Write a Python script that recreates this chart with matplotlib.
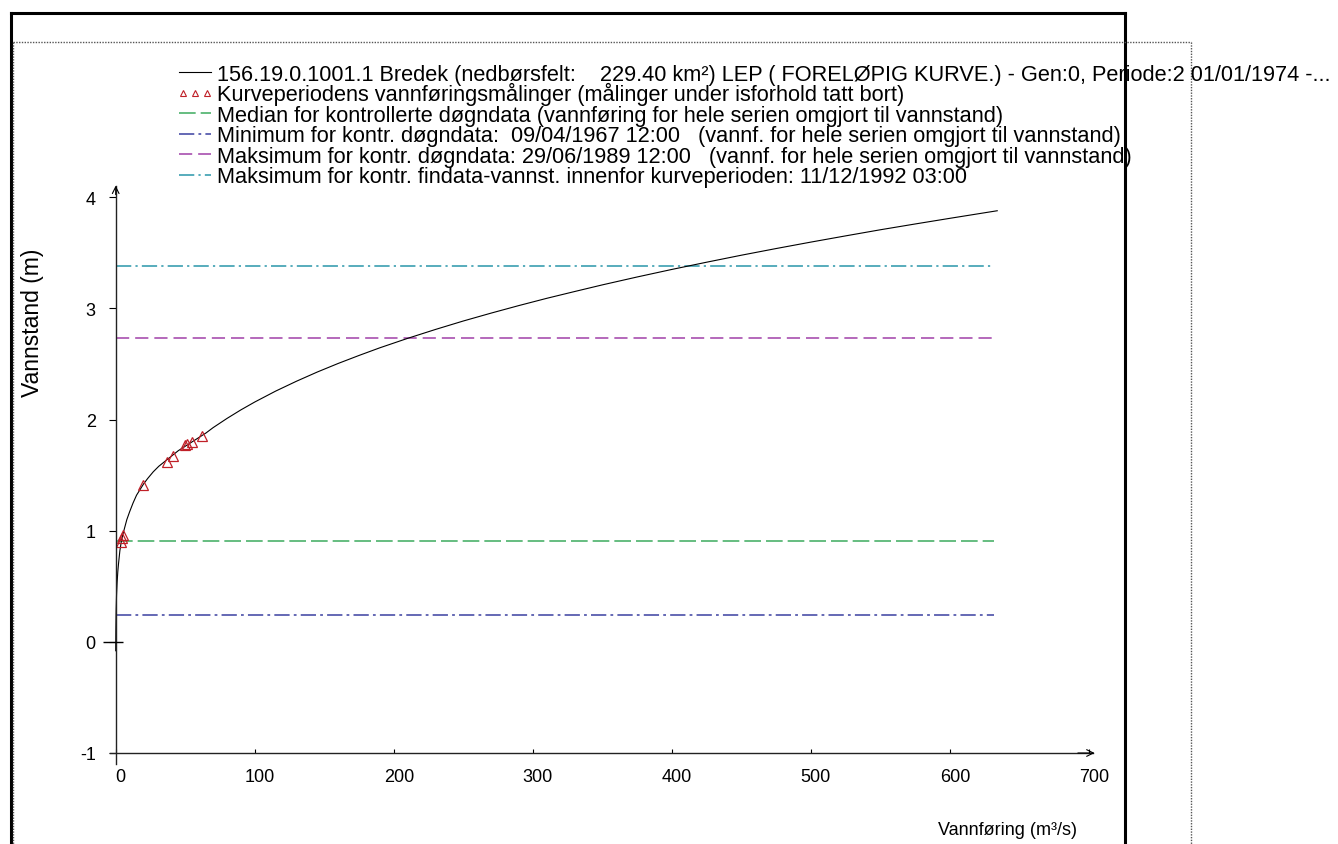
import matplotlib
matplotlib.use("Agg")
import matplotlib.pyplot as plt
from matplotlib.lines import Line2D
from matplotlib.transforms import ScaledTranslation

plt.rcParams["font.family"] = ["Liberation Sans", "DejaVu Sans"]
plt.rcParams["lines.scale_dashes"] = False

# Rating curve: discharge (m3/s) and stage (m)
curve_q = [0, 0.1, 0.3, 0.6, 1.0, 1.5, 2.0, 3.0, 4.0, 5.0, 6.5, 8, 10, 12.5, 15, 17.5,
           20, 23, 27, 31, 35, 40, 45, 50, 55, 60, 65, 70, 80, 90, 100, 115, 130,
           145, 160, 175, 190, 210, 230, 250, 270, 290, 310, 330, 350, 375, 400,
           425, 450, 475, 500, 525, 550, 575, 600, 620, 634]
curve_h = [-0.08, 0.10, 0.28, 0.42, 0.53, 0.63, 0.70, 0.82, 0.90, 0.96, 1.03, 1.10,
           1.17, 1.25, 1.32, 1.37, 1.42, 1.47, 1.53, 1.58, 1.62, 1.67, 1.72, 1.76,
           1.80, 1.84, 1.88, 1.927, 2.010, 2.087, 2.158, 2.256, 2.345, 2.428, 2.505,
           2.577, 2.646, 2.731, 2.811, 2.887, 2.958, 3.026, 3.091, 3.152, 3.212,
           3.283, 3.351, 3.416, 3.479, 3.539, 3.597, 3.653, 3.708, 3.760, 3.811,
           3.851, 3.879]

# Discharge measurements in the curve period
meas_q = [3.5, 4.2, 5.0, 19.7, 36.8, 40.9, 50.0, 51.0, 54.9, 62.1]
meas_h = [0.90, 0.93, 0.96, 1.41, 1.62, 1.67, 1.77, 1.78, 1.80, 1.85]

# Reference stages
median_daily = 0.91
min_daily = 0.24
max_daily = 2.73
max_fine = 3.38
level_q_end = 632

x_ticks = [0, 100, 200, 300, 400, 500, 600, 700]
y_ticks = [-1, 0, 1, 2, 3, 4]

legend_labels = [
    "156.19.0.1001.1 Bredek (nedbørsfelt:    229.40 km²) LEP ( FORELØPIG KURVE.) - Gen:0, Periode:2 01/01/1974 -...",
    "Kurveperiodens vannføringsmålinger (målinger under isforhold tatt bort)",
    "Median for kontrollerte døgndata (vannføring for hele serien omgjort til vannstand)",
    "Minimum for kontr. døgndata:  09/04/1967 12:00   (vannf. for hele serien omgjort til vannstand)",
    "Maksimum for kontr. døgndata: 29/06/1989 12:00   (vannf. for hele serien omgjort til vannstand)",
    "Maksimum for kontr. findata-vannst. innenfor kurveperioden: 11/12/1992 03:00",
]

c_green = "#3cab5e"
c_blue = "#3a40a0"
c_purple = "#a040a8"
c_teal = "#2a96aa"
c_red = "#c02028"

ls_median = (0, (12, 3.6))
ls_min = (0, (11, 3, 2, 3))
ls_maxd = (0, (9.5, 4.3))
ls_maxf = (0, (11, 3, 1.6, 3))

W, H = 1338, 845
fig = plt.figure(figsize=(W / 100, H / 100), dpi=100)


def fx(px):
    return px / W


def fy(py):
    return 1 - py / H


ax = fig.add_axes([fx(115.7), fy(754), (1089 - 115.7) / W, (754 - 198.3) / H])
ax.set_xlim(0, 700)
ax.set_ylim(-1, 4)
ax.patch.set_visible(False)
for s in ax.spines.values():
    s.set_visible(False)

# Reference stage lines
ax.plot([0, level_q_end], [max_fine] * 2, color=c_teal, lw=1.1, ls=ls_maxf)
ax.plot([0, level_q_end], [max_daily] * 2, color=c_purple, lw=1.1, ls=ls_maxd)
ax.plot([0, level_q_end], [median_daily] * 2, color=c_green, lw=1.1, ls=ls_median)
ax.plot([0, level_q_end], [min_daily] * 2, color=c_blue, lw=1.1, ls=ls_min)

# Rating curve and measurements
ax.plot(curve_q, curve_h, color="black", lw=0.8, clip_on=False)
ax.plot(meas_q, meas_h, ls="none", marker="^", ms=7, mfc="none",
        mec=c_red, mew=0.9, clip_on=False)

# Axis lines with arrow heads
axis_col = "#222222"
ax.plot([0, 0], [-1.1, 4.1], color=axis_col, lw=1.0, clip_on=False)
ax.plot([-4, 703], [-1, -1], color=axis_col, lw=1.0, clip_on=False)
ax.annotate("", xy=(0, 4.13), xytext=(0, 4.0), annotation_clip=False,
            arrowprops=dict(arrowstyle="->", lw=0.8, color="black", mutation_scale=12))
ax.annotate("", xy=(706, -1), xytext=(690, -1), annotation_clip=False,
            arrowprops=dict(arrowstyle="->", lw=0.8, color="black", mutation_scale=12))
ax.plot([0], [0], marker="_", ms=14, mew=1.0, color="black", clip_on=False,
        transform=ax.transData + ScaledTranslation(-3 / 100, 0, fig.dpi_scale_trans))

ax.set_xticks(x_ticks)
ax.set_xticklabels([str(v) for v in x_ticks], fontsize=13)
ax.set_yticks(y_ticks)
ax.set_yticklabels([str(v) for v in y_ticks], fontsize=13)
ax.tick_params(axis="x", direction="in", length=3, width=0.8, pad=11)
ax.tick_params(axis="y", direction="out", length=4.8, width=0.8, pad=9.5)
for lab in ax.get_xticklabels():
    lab.set_transform(lab.get_transform() + ScaledTranslation(5 / 100, 0, fig.dpi_scale_trans))

fig.text(fx(33), fy(323), "Vannstand (m)", rotation=90, fontsize=16.5,
         ha="center", va="center")
fig.text(fx(1077), fy(831), "Vannføring (m³/s)", fontsize=13, ha="right", va="center")

# Legend
legend_styles = [
    dict(color="black", lw=0.8, ls="-"),
    None,
    dict(color=c_green, lw=1.1, ls=ls_median),
    dict(color=c_blue, lw=1.1, ls=ls_min),
    dict(color=c_purple, lw=1.1, ls=ls_maxd),
    dict(color=c_teal, lw=1.1, ls=ls_maxf),
]
for i, (label, st) in enumerate(zip(legend_labels, legend_styles)):
    yc = 73 + 20.5 * i
    if st is None:
        fig.add_artist(Line2D([fx(183), fx(195), fx(207)], [fy(yc)] * 3,
                              transform=fig.transFigure, ls="none", marker="^",
                              ms=4.5, mfc="none", mec=c_red, mew=0.8))
    else:
        fig.add_artist(Line2D([fx(179), fx(211)], [fy(yc)] * 2,
                              transform=fig.transFigure, **st))
    fig.text(fx(217), fy(yc + 7.8), label, fontsize=15.7, ha="left", va="baseline")

# Page frames
frame = dict(transform=fig.transFigure, color="black", lw=2.2, solid_capstyle="projecting")
fig.add_artist(Line2D([fx(10.5), fx(10.5)], [fy(13.5), fy(860)], **frame))
fig.add_artist(Line2D([fx(10.5), fx(1125)], [fy(13.5), fy(13.5)], **frame))
fig.add_artist(Line2D([fx(1125), fx(1125)], [fy(13.5), fy(860)], **frame))
dotted = dict(transform=fig.transFigure, color="#555555", lw=1.0, ls=(0, (1, 1)))
fig.add_artist(Line2D([fx(12.5), fx(1191)], [fy(43), fy(43)], **dotted))
fig.add_artist(Line2D([fx(1191), fx(1191)], [fy(43), fy(860)], **dotted))
fig.add_artist(Line2D([fx(12.5), fx(12.5)], [fy(43), fy(860)], **dotted))

fig.savefig("out.png", dpi=100)
